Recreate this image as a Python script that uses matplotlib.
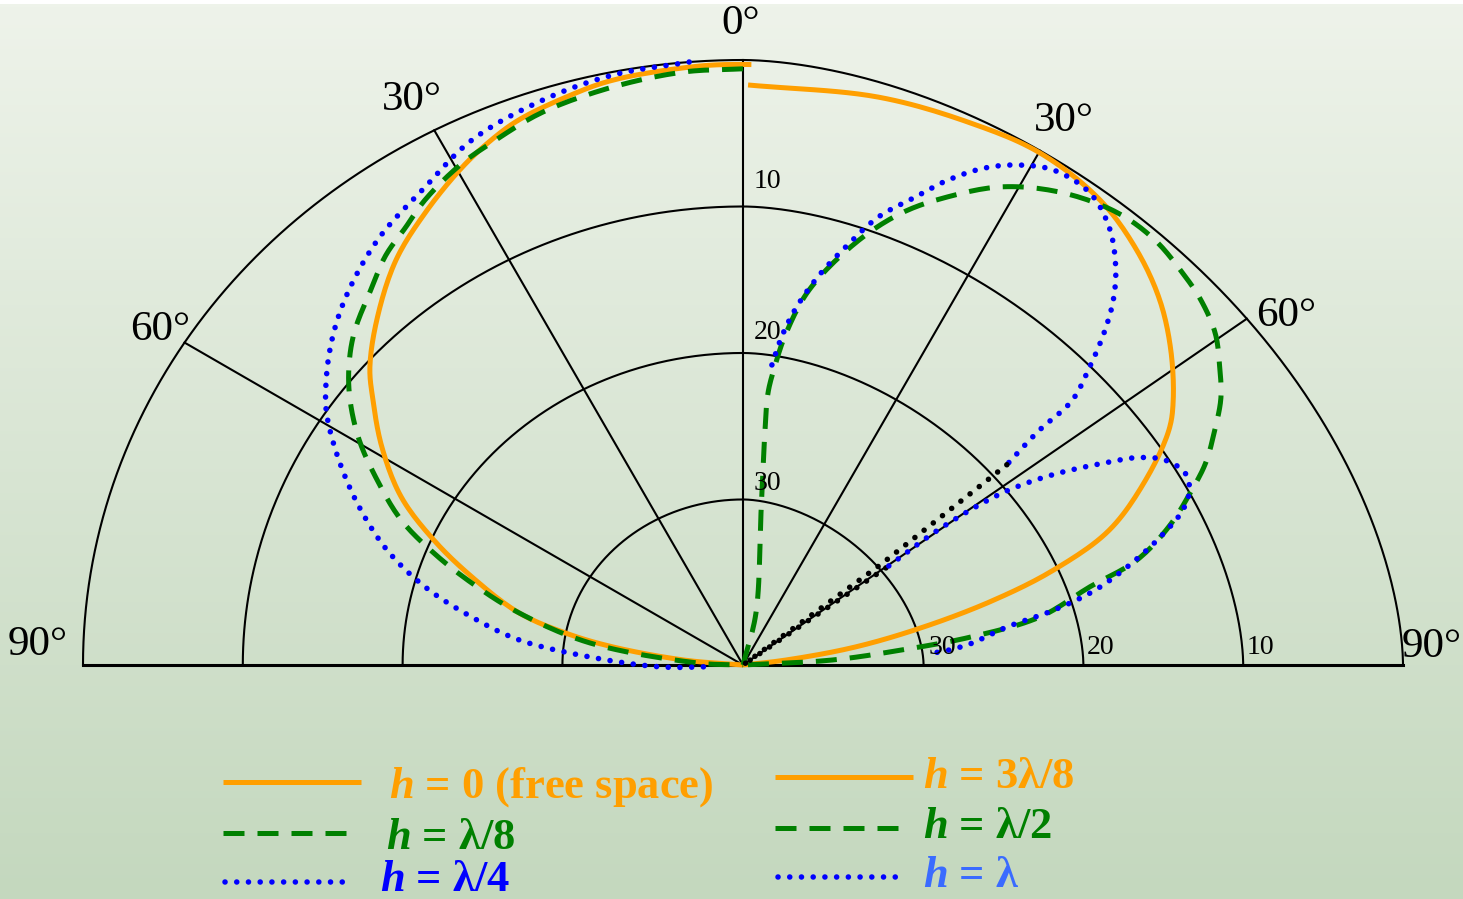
import numpy as np
import matplotlib.pyplot as plt

plt.rcParams['font.family'] = ['Liberation Serif', 'DejaVu Serif']
plt.rcParams['mathtext.fontset'] = 'custom'
plt.rcParams['mathtext.it'] = 'Liberation Serif:italic:bold'
plt.rcParams['mathtext.rm'] = 'Liberation Serif:bold'

# radiation patterns, angle from zenith (deg, left side negative) and level (dB)
free_deg = [0.8, 0, -4.1, -12.5, -17.3, -22.4, -25.6, -29.4, -35.1, -40.6, -46.4, -51.4,
            -54.4, -58.9, -63.8, -68.0, -72.0, -76.9, -79.8, -82.1, -85.2, -90]
free_db = [-0.3, -0.3, -0.32, -0.55, -0.98, -1.54, -2.15, -3.04, -4.58, -6.15, -8.32, -10.34,
           -11.92, -14.25, -17.02, -20.16, -23.3, -26.84, -30.0, -33.07, -37.6, -41.3]

lam8_deg = [0, -5.7, -12.7, -19.9, -25.2, -29.5, -34.4, -37.6, -41.1, -44.5, -49.5, -52.9,
            -56.0, -59.6, -63.2, -67.0, -70.1, -73.2, -76.9, -81.8, -87.5, -90]
lam8_db = [-0.6, -0.65, -1.01, -1.53, -2.26, -2.85, -3.84, -4.71, -5.5, -6.6, -8.04, -9.33,
           -10.77, -12.78, -15.17, -17.72, -20.5, -23.44, -26.84, -31.6, -38.5, -41.3]

lam4_deg = [-5.1, -12.4, -19.5, -27.3, -33.6, -40.7, -47.5, -52.7, -57.6, -59.7, -63.4,
            -67.6, -72.1, -76.2, -80.0, -83.6, -87.0, -91.4, -93.0]
lam4_db = [0.0, -0.21, -0.75, -1.65, -3.08, -4.36, -6.05, -7.68, -9.53, -10.52, -12.56,
           -14.96, -17.68, -20.7, -24.03, -27.18, -31.7, -36.2, -39.5]

lam38_deg = [0.5, 13.4, 22.8, 30.1, 37.5, 43.5, 48.8, 53.6, 58.4, 61.1, 65.3, 69.8, 73.0,
             75.5, 78.1, 80.9, 83.4, 90]
lam38_db = [-1.7, -1.01, -0.47, -0.14, -0.66, -1.88, -3.41, -5.26, -7.39, -8.84, -12.03,
            -15.85, -20.29, -24.66, -29.49, -34.1, -38.6, -41.3]

lam2_deg = [14, 14.0, 6.75, 5.35, 5.25, 6.05, 7.4, 10.0, 14.9, 19.3, 23.6, 28.5, 34.1, 39.7,
            44.1, 48.3, 51.4, 54.9, 58.0, 60.8, 63.5, 66.4, 68.7, 72.0, 75.1, 77.3, 80.8,
            83.0, 84.6, 86.8, 90]
lam2_db = [-41.3, -37.6, -30.8, -25.1, -22.6, -20.76, -18.33, -15.1, -11.13, -8.11, -5.81,
           -3.46, -1.69, -0.66, -0.54, -0.98, -1.42, -2.26, -3.53, -4.75, -6.33, -8.06,
           -9.77, -12.25, -15.09, -18.55, -22.21, -26.82, -31.3, -35.7, -41.3]

# h = lambda: upper lobe, the null between the lobes, lower lobe
lam1_up_deg = [5.5, 6.7, 8.3, 10.9, 13.8, 16.8, 20.2, 22.9, 25.9, 28.7, 32.1, 36.3, 39.9,
               43.1, 45.4, 47.4, 49.3, 51.2, 51.6, 52.2, 52.8]
lam1_up_db = [-20.65, -18.66, -16.66, -14.09, -11.58, -8.92, -6.72, -4.74, -2.9, -1.66,
              -0.69, -0.66, -1.81, -3.69, -5.54, -7.68, -10.04, -12.52, -15.52, -17.4, -18.8]
lam1_null_deg = [52.8, 53.9, 54.5, 55.8]
lam1_null_db = [-18.8, -29.8, -41.3, -29.4]
lam1_lo_deg = [55.8, 55.3, 56.2, 57.3, 58.9, 61.0, 62.2, 64.0, 66.5, 68.6, 70.6, 72.6, 75.3,
               78.0, 80.0, 81.8, 84.7, 86.2, 86.3]
lam1_lo_db = [-29.4, -25.28, -20.94, -18.66, -16.24, -13.37, -11.73, -10.28, -9.58, -9.91,
              -10.94, -12.72, -15.43, -18.31, -21.25, -24.41, -26.95, -28.9, -29.65]

ring_db = [0, -10, -20, -30]
ring_labels = ['10', '20', '30']
spoke_deg = [-60, -30, 0, 30, 55.5]

DB_FLOOR = 41.3          # level that sits at the centre
TOP = 605 / 660          # the grid is squashed vertically
P_LEFT, P_RIGHT = 2.0, 1.75

ORANGE = '#FF9F00'
GREEN = '#008000'
BLUE = '#0000FF'

W, H = 1463, 899


def to_xy(deg, db):
    th = np.radians(np.asarray(deg, dtype=float))
    rho = 1 + np.asarray(db, dtype=float) / DB_FLOOR
    s, c = np.sin(th), np.cos(th)
    p = np.where(s < 0, P_LEFT, P_RIGHT)
    norm = (np.abs(s) ** p + np.abs(c / TOP) ** p) ** (1 / p)
    t = rho / norm
    return t * s, t * c


def smooth(x, y, n=12):
    # centripetal catmull-rom through the read points, just for drawing
    pts = np.column_stack([x, y])
    P = np.vstack([2 * pts[0] - pts[1], pts, 2 * pts[-1] - pts[-2]])
    out = []
    for i in range(len(P) - 3):
        p0, p1, p2, p3 = P[i:i + 4]
        t0 = 0.0
        t1 = t0 + max(np.linalg.norm(p1 - p0), 1e-9) ** 0.5
        t2 = t1 + max(np.linalg.norm(p2 - p1), 1e-9) ** 0.5
        t3 = t2 + max(np.linalg.norm(p3 - p2), 1e-9) ** 0.5
        t = np.linspace(t1, t2, n, endpoint=False)[:, None]
        a1 = (t1 - t) / (t1 - t0) * p0 + (t - t0) / (t1 - t0) * p1
        a2 = (t2 - t) / (t2 - t1) * p1 + (t - t1) / (t2 - t1) * p2
        a3 = (t3 - t) / (t3 - t2) * p2 + (t - t2) / (t3 - t2) * p3
        b1 = (t2 - t) / (t2 - t0) * a1 + (t - t0) / (t2 - t0) * a2
        b2 = (t3 - t) / (t3 - t1) * a2 + (t - t1) / (t3 - t1) * a3
        out.append((t2 - t) / (t2 - t1) * b1 + (t - t1) / (t2 - t1) * b2)
    out.append(pts[-1][None])
    out = np.vstack(out)
    return out[:, 0], out[:, 1]


def fx(px):
    return px / W


def fy(py):
    return 1 - py / H


fig = plt.figure(figsize=(W / 100, H / 100), dpi=100)
fig.patch.set_facecolor('white')

# background gradient
bg = fig.add_axes([0, 0, 1, fy(4)])
top = np.array([238, 243, 234]) / 255
bottom = np.array([196, 216, 190]) / 255
k = np.linspace(0, 1, 256)[:, None, None]
bg.imshow(top + (bottom - top) * k, aspect='auto', extent=[0, 1, 0, 1])
bg.axis('off')

ax = fig.add_axes([0, 0, 1, 1])
ax.patch.set_alpha(0)
ax.set_xlim(-743 / 660, (W - 743) / 660)
ax.set_ylim(-(H - 665) / 660, 665 / 660)
ax.axis('off')

# grid
sweep = np.linspace(-90, 90, 721)
for db in ring_db:
    ax.plot(*to_xy(sweep, np.full_like(sweep, db)), color='black', lw=1.5)
bx, _ = to_xy([-90, 90], [0, 0])
ax.plot(bx, [0, 0], color='black', lw=2.2)
for a in spoke_deg:
    ax.plot(*to_xy([a, a], [-DB_FLOOR, 0]), color='black', lw=1.5)

# patterns
solid = dict(color=ORANGE, lw=3.6, solid_capstyle='butt')
dashed = dict(color=GREEN, lw=3.6, dashes=(4.2, 2.6), dash_capstyle='butt')
dotted = dict(color=BLUE, lw=4.0, dashes=(0.01, 2.1), dash_capstyle='round')

ax.plot(*smooth(*to_xy(free_deg, free_db)), **solid)
ax.plot(*smooth(*to_xy(lam8_deg, lam8_db)), **dashed)
ax.plot(*smooth(*to_xy(lam4_deg, lam4_db)), **dotted)
ax.plot(*smooth(*to_xy(lam38_deg, lam38_db)), **solid)
ax.plot(*smooth(*to_xy(lam2_deg, lam2_db)), **dashed)
ax.plot(*smooth(*to_xy(lam1_up_deg, lam1_up_db)), **dotted)
ax.plot(*to_xy(lam1_null_deg, lam1_null_db), **{**dotted, 'color': 'black'})
ax.plot(*smooth(*to_xy(lam1_lo_deg, lam1_lo_db)), **dotted)

# angle labels
angle_text = [('90°', 38, 645), ('60°', 160, 330), ('30°', 412, 100), ('0°', 741, 24),
              ('30°', 1064, 121), ('60°', 1286, 316), ('90°', 1432, 647)]
for s, px, py in angle_text:
    fig.text(fx(px), fy(py), s, fontsize=31, ha='center', va='center')

# level labels
for s, py in zip(ring_labels, [182, 333, 484]):
    fig.text(fx(754), fy(py), s, fontsize=20, ha='left', va='center')
for s, px in zip(ring_labels, [1247, 1087, 929]):
    fig.text(fx(px), fy(647), s, fontsize=20, ha='left', va='center')

# legend
legend = [
    (223, 361, 782, solid, r'$h$ = 0 (free space)', 389, 798, ORANGE),
    (223, 357, 833, dashed, r'$h$ = λ/8', 386, 849, GREEN),
    (225, 353, 882, dotted, r'$h$ = λ/4', 380, 891, BLUE),
    (775, 913, 777, solid, r'$h$ = 3λ/8', 923, 788, ORANGE),
    (775, 907, 828, dashed, r'$h$ = λ/2', 923, 838, GREEN),
    (778, 905, 877, dotted, r'$h$ = λ', 923, 887, '#3A6BFF'),
]
for x0, x1, ly, style, label, tx, ty, tc in legend:
    ax.plot([fx(x0), fx(x1)], [fy(ly), fy(ly)], transform=fig.transFigure, **style)
    fig.text(fx(tx), fy(ty), label, fontsize=32, fontweight='bold', color=tc,
             ha='left', va='baseline')

fig.savefig('out.png', dpi=100)
